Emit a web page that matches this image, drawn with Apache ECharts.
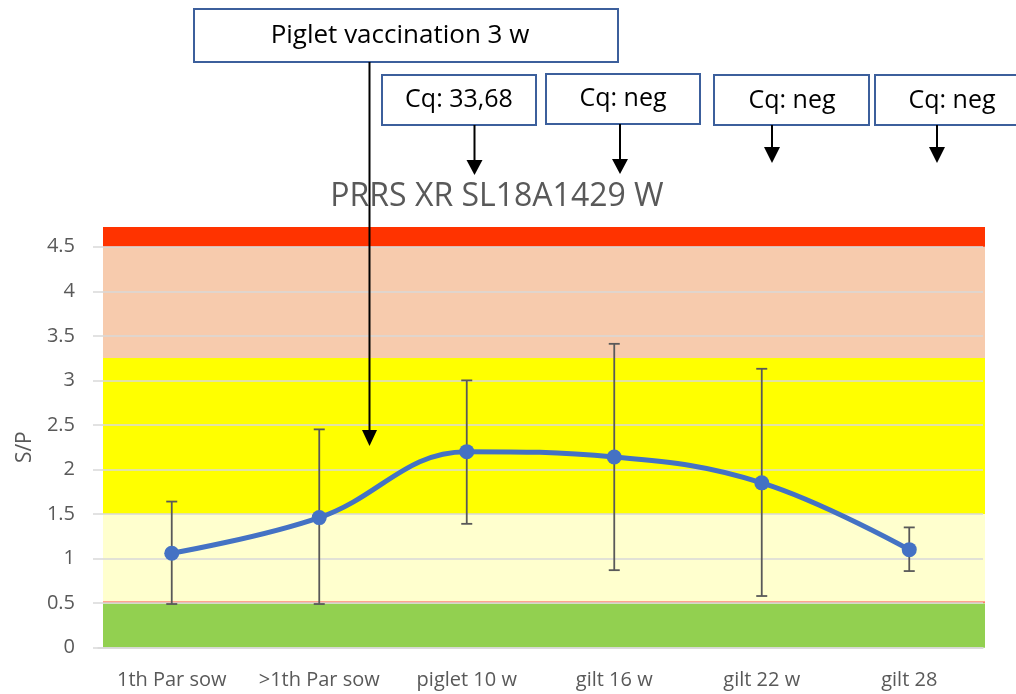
<!DOCTYPE html>
<html><head><meta charset="utf-8">
<script src="https://cdn.jsdelivr.net/npm/echarts@6/dist/echarts.min.js"></script>
<style>html,body{margin:0;padding:0;background:#fff}#c{width:1016px;height:694px}</style>
</head><body><div id="c"></div>
<script>
// ---- data ----
const categories = ['1th Par sow', '>1th Par sow', 'piglet 10 w', 'gilt 16 w', 'gilt 22 w', 'gilt 28'];
const means = [1.06, 1.46, 2.20, 2.14, 1.85, 1.10];
const upper = [1.64, 2.45, 3.00, 3.41, 3.13, 1.35];
const lower = [0.49, 0.49, 1.39, 0.87, 0.58, 0.86];
const yMin = 0, yMax = 4.5, yInterval = 0.5;
const bandFrom = [0, 0.5, 1.5, 3.25, 4.5];
const bandTo = [0.5, 1.5, 3.25, 4.5, 4.72];
const bandColors = ['#92D050', '#FFFFCE', '#FFFF00', '#F7CBAD', '#FF3300'];
const titleText = 'PRRS XR SL18A1429 W';
const yName = 'S/P';
const vaccinationLabel = 'Piglet vaccination 3 w';
const cqLabels = ['Cq: 33,68', 'Cq: neg', 'Cq: neg', 'Cq: neg'];

// ---- styling ----
const FONT = '"Open Sans", Lato, sans-serif';
const GRAY = '#595959';
const GRID = '#D9D9D9';
const BOX = '#3C5F9C';
const LINE = '#4472C4';

const chart = echarts.init(document.getElementById('c'), null, {renderer: 'canvas'});

const cqBoxes = [
  {x: 382, y: 75, w: 154, h: 50, tx: 459, ty: 100, ax: 474.5, a0: 125, a1: 160, a2: 175},
  {x: 546, y: 74, w: 154, h: 50, tx: 623, ty: 99, ax: 620, a0: 124, a1: 159, a2: 174},
  {x: 714, y: 75, w: 155, h: 50, tx: 792, ty: 101, ax: 772, a0: 125, a1: 147, a2: 163},
  {x: 875, y: 75, w: 155, h: 50, tx: 952, ty: 101, ax: 937, a0: 125, a1: 147, a2: 163}
];

const graphics = [];
graphics.push({type: 'rect', z: 100, shape: {x: 194, y: 9, width: 424, height: 53},
  style: {fill: '#fff', stroke: BOX, lineWidth: 2}});
graphics.push({type: 'text', z: 101, x: 400, y: 36,
  style: {text: vaccinationLabel, font: '26px ' + FONT, fill: '#000', align: 'center', verticalAlign: 'middle'}});
graphics.push({type: 'line', z: 100, shape: {x1: 369.5, y1: 62, x2: 369.5, y2: 431},
  style: {stroke: '#000', lineWidth: 2}});
graphics.push({type: 'polygon', z: 100, shape: {points: [[362, 430], [377, 430], [369.5, 446]]},
  style: {fill: '#000'}});
cqBoxes.forEach((b, i) => {
  graphics.push({type: 'rect', z: 100, shape: {x: b.x, y: b.y, width: b.w, height: b.h},
    style: {fill: '#fff', stroke: BOX, lineWidth: 2}});
  graphics.push({type: 'text', z: 101, x: b.tx, y: b.ty,
    style: {text: cqLabels[i], font: '25px ' + FONT, fill: '#000', align: 'center', verticalAlign: 'middle'}});
  graphics.push({type: 'line', z: 100, shape: {x1: b.ax, y1: b.a0, x2: b.ax, y2: b.a1 + 1},
    style: {stroke: '#000', lineWidth: 2}});
  graphics.push({type: 'polygon', z: 100, shape: {points: [[b.ax - 8, b.a1], [b.ax + 8, b.a1], [b.ax, b.a2]]},
    style: {fill: '#000'}});
});

const option = {
  animation: false,
  backgroundColor: '#fff',
  title: {
    text: titleText, left: 492, top: 176, textAlign: 'center',
    textStyle: {fontFamily: FONT, fontSize: 32, fontWeight: 'normal', color: GRAY}
  },
  grid: {left: 98, right: 33, top: 246.7, bottom: 46.3, containLabel: false},
  xAxis: {
    type: 'category', data: categories, boundaryGap: true,
    axisLine: {show: true, lineStyle: {color: GRID, width: 1.5}},
    axisTick: {show: false},
    axisLabel: {color: GRAY, fontFamily: FONT, fontSize: 20, margin: 23, interval: 0}
  },
  yAxis: {
    type: 'value', min: yMin, max: yMax, interval: yInterval,
    name: yName, nameLocation: 'middle', nameGap: 62, nameRotate: 90,
    nameTextStyle: {color: GRAY, fontFamily: FONT, fontSize: 21},
    axisLine: {show: false},
    axisTick: {show: true, length: 5, lineStyle: {color: GRID, width: 1.5}},
    axisLabel: {color: GRAY, fontFamily: FONT, fontSize: 20, margin: 23, formatter: v => String(v)},
    splitLine: {show: true, lineStyle: {color: GRID, width: 1.5}}
  },
  graphic: graphics,
  series: [
    {
      type: 'custom', z: -1, silent: true,
      data: bandFrom.map((f, i) => [0, f, bandTo[i], i]),
      encode: {x: 0, y: [1, 2]},
      renderItem: (params, api) => {
        const cs = params.coordSys;
        const y0 = api.coord([0, api.value(1)])[1];
        const y1 = api.coord([0, api.value(2)])[1];
        const idx = api.value(3);
        const children = [{type: 'rect', shape: {x: cs.x + 5, y: y1, width: cs.width - 3, height: y0 - y1},
          style: {fill: bandColors[idx]}}];
        if (idx === 1) {
          children.push({type: 'line', shape: {x1: cs.x + 5, y1: y0 - 1, x2: cs.x + cs.width + 2, y2: y0 - 1},
            style: {stroke: '#FF4D4D', lineWidth: 1.2}});
        }
        return {type: 'group', children};
      }
    },
    {
      type: 'custom', z: 3, silent: true,
      data: categories.map((c, i) => [i, lower[i], upper[i]]),
      encode: {x: 0, y: [1, 2]},
      renderItem: (params, api) => {
        const i = api.value(0);
        const lo = api.coord([i, api.value(1)]);
        const hi = api.coord([i, api.value(2)]);
        const x = lo[0], h = 5.5;
        const st = {stroke: GRAY, lineWidth: 1.8};
        return {type: 'group', children: [
          {type: 'line', shape: {x1: x, y1: lo[1], x2: x, y2: hi[1]}, style: st},
          {type: 'line', shape: {x1: x - h, y1: lo[1], x2: x + h, y2: lo[1]}, style: st},
          {type: 'line', shape: {x1: x - h, y1: hi[1], x2: x + h, y2: hi[1]}, style: st}
        ]};
      }
    },
    {
      type: 'line', z: 4, data: means, smooth: 0.4,
      symbol: 'circle', symbolSize: 15,
      lineStyle: {color: LINE, width: 5},
      itemStyle: {color: LINE}
    }
  ]
};
chart.setOption(option);
</script>
</body></html>
